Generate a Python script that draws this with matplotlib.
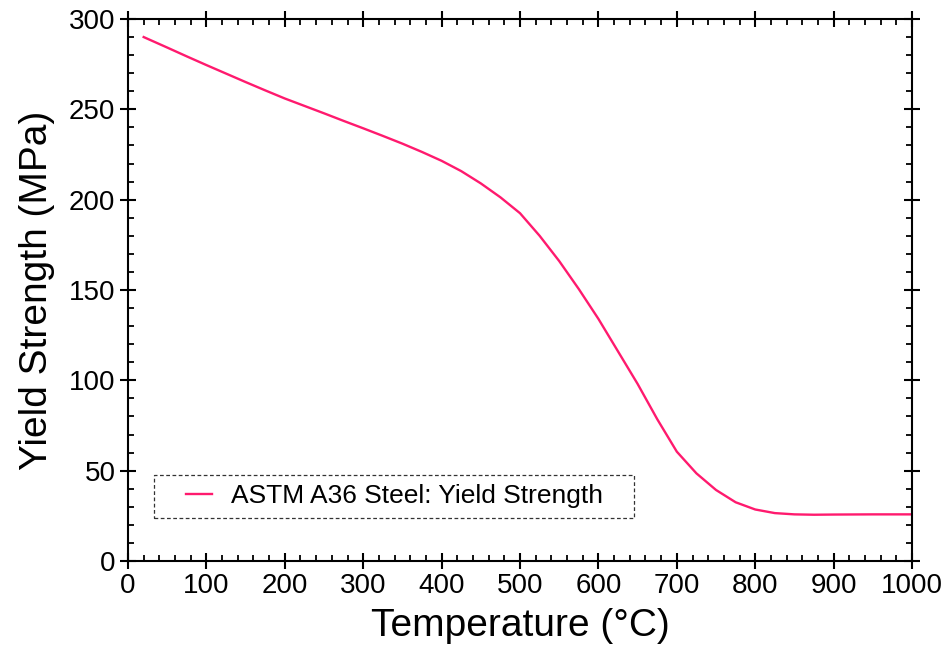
import matplotlib
matplotlib.use("Agg")
import matplotlib.pyplot as plt
from matplotlib.ticker import MultipleLocator
from matplotlib.patches import Rectangle

plt.rcParams['font.family'] = ['Liberation Sans', 'DejaVu Sans']

# data
temperature = [20, 50, 75, 100, 125, 150, 175, 200, 225, 250, 275, 300, 325, 350,
               375, 400, 425, 450, 475, 500, 525, 550, 575, 600, 625, 650, 675,
               700, 725, 750, 775, 800, 825, 850, 875, 900, 950, 1000]
yield_strength = [290, 284.2, 279.3, 274.5, 269.8, 265.1, 260.5, 256, 251.9, 247.8,
                  243.6, 239.5, 235.3, 231, 226.4, 221.5, 215.8, 209, 201.3, 192.5,
                  180, 166, 150.5, 134, 116, 98, 78.5, 60.5, 48.5, 39.3, 32.5, 28.5,
                  26.5, 25.8, 25.6, 25.7, 25.8, 25.8]
series_label = 'ASTM A36 Steel: Yield Strength'

fig = plt.figure(figsize=(9.46, 6.62), dpi=100)
ax = fig.add_axes([0.1353, 0.1526, 0.8288, 0.8187])

ax.plot(temperature, yield_strength, color='#ff1a6e', lw=1.7, label=series_label)

ax.set_xlim(0, 1000)
ax.set_ylim(0, 300)
ax.xaxis.set_major_locator(MultipleLocator(100))
ax.xaxis.set_minor_locator(MultipleLocator(20))
ax.yaxis.set_major_locator(MultipleLocator(50))
ax.yaxis.set_minor_locator(MultipleLocator(10))

for s in ax.spines.values():
    s.set_linewidth(1.5)
ax.tick_params(which='major', direction='inout', length=11, width=1.5,
               top=True, right=True, labelsize=20)
ax.tick_params(which='minor', direction='in', length=4.5, width=1.3,
               top=True, right=True)

ax.set_xlabel('Temperature (°C)', fontsize=28, labelpad=6)
ax.set_ylabel('Yield Strength (MPa)', fontsize=28, labelpad=10)

# legend without its own frame, dashed box drawn around it
leg = ax.legend(loc='center left', bbox_to_anchor=(0.074, 0.119), fontsize=19,
                frameon=False, handlelength=1.0, borderpad=0, borderaxespad=0,
                handletextpad=0.72)
box = Rectangle((0.0332, 0.0793), 0.6122, 0.0794, transform=ax.transAxes,
                fill=False, edgecolor='#333333', lw=0.9, ls=(0, (3, 2)), zorder=5)
ax.add_patch(box)

fig.savefig('out.png', dpi=100)
